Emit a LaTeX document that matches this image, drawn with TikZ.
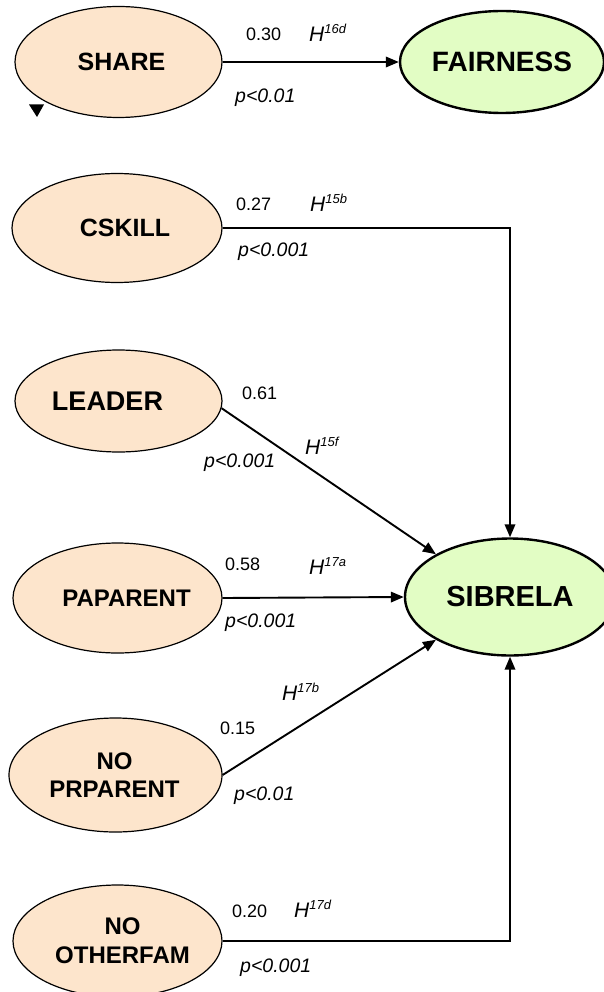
\documentclass[tikz,border=0pt]{standalone}
\usepackage{fontspec}
\setmainfont{Liberation Sans}
\usetikzlibrary{shapes.geometric,arrows.meta}
\definecolor{peach}{RGB}{253,229,204}
\definecolor{lime}{RGB}{226,253,196}
% hypothesis tag: italic H with a raised index
\newcommand\hypo[1]{H\raisebox{8pt}{\fontsize{13}{13}\selectfont #1}}

\begin{document}
\begin{tikzpicture}[x=1pt,y=-1pt,
  latent/.style={ellipse, draw=black, line width=1.2pt, fill=peach, inner sep=0pt},
  outcome/.style={ellipse, draw=black, line width=2.4pt, fill=lime, inner sep=0pt},
  link/.style={line width=1.9pt, -{Triangle[length=13pt,width=10.5pt]}},
  vname/.style={font=\fontsize{25}{28}\selectfont\bfseries, align=center, inner sep=0pt},
  coef/.style={anchor=base west, inner sep=0pt, font=\fontsize{18}{18}\selectfont},
  hyp/.style={anchor=base west, inner sep=0pt, font=\fontsize{21}{21}\selectfont\itshape},
  pval/.style={anchor=base west, inner sep=0pt, font=\fontsize{19.5}{19.5}\selectfont\itshape}
]
\useasboundingbox (0,0) rectangle (604,992);

% constructs
\node[latent, minimum width=207pt, minimum height=111pt,
  label={[vname,xshift=3pt]center:SHARE}] (share) at (118.5,62) {};
\node[outcome, minimum width=204pt, minimum height=102pt,
  label={[vname,font=\fontsize{28}{30}\selectfont\bfseries]center:FAIRNESS}] (fair) at (502,62) {};
\node[latent, minimum width=210pt, minimum height=109pt,
  label={[vname,xshift=8pt]center:CSKILL}] (cskill) at (117,228) {};
\node[latent, minimum width=207pt, minimum height=102pt,
  label={[vname,font=\fontsize{27}{30}\selectfont\bfseries,xshift=-11pt]center:LEADER}] (leader) at (118.5,401) {};
\node[latent, minimum width=209pt, minimum height=110pt,
  label={[vname,font=\fontsize{24}{28}\selectfont\bfseries,xshift=9pt]center:PAPARENT}] (paparent) at (117.5,598) {};
\node[latent, minimum width=213pt, minimum height=114pt,
  label={[vname,font=\fontsize{24}{28}\selectfont\bfseries,xshift=-1pt]center:NO\\PRPARENT}] (noprp) at (115.5,775) {};
\node[latent, minimum width=209pt, minimum height=112pt,
  label={[vname,font=\fontsize{24}{29}\selectfont\bfseries,xshift=5pt]center:NO\\OTHERFAM}] (nooth) at (117.5,941) {};
\node[outcome, minimum width=210pt, minimum height=117pt,
  label={[vname,font=\fontsize{29}{31}\selectfont\bfseries]center:SIBRELA}] (sibrela) at (510,597) {};

% small marker under SHARE
\fill (29,104.5) -- (44,104.5) -- (37,117) -- cycle;

% structural paths
\draw[link] (share.east) -- (fair.west);
\draw[link] (cskill.east) -| (sibrela.north);
\draw[link] (leader.-4) -- (sibrela.150);
\draw[link] (paparent.east) -- (sibrela.west);
\draw[link] (noprp.east) -- (sibrela.210);
\draw[link] (nooth.east) -| (sibrela.south);

% path estimates, hypotheses and significance
\node[coef] (c1) at (246,41) {0.30};
\node[hyp]  (h1) at (309,42) {\hypo{16d}};
\node[pval] (p1) at (235,103) {p<0.01};

\node[coef] (c2) at (236,211) {0.27};
\node[hyp]  (h2) at (310,212) {\hypo{15b}};
\node[pval] (p2) at (238,256) {p<0.001};

\node[coef] (c3) at (242,399) {0.61};
\node[hyp]  (h3) at (305,454) {\hypo{15f}};
\node[pval] (p3) at (204,467) {p<0.001};

\node[coef] (c4) at (225,570) {0.58};
\node[hyp]  (h4) at (309,574) {\hypo{17a}};
\node[pval] (p4) at (225,627) {p<0.001};

\node[hyp]  (h5) at (282,700) {\hypo{17b}};
\node[coef] (c5) at (220,734) {0.15};
\node[pval] (p5) at (234,800) {p<0.01};

\node[coef] (c6) at (232,917) {0.20};
\node[hyp]  (h6) at (294,917) {\hypo{17d}};
\node[pval] (p6) at (240,972) {p<0.001};
\end{tikzpicture}
\end{document}
